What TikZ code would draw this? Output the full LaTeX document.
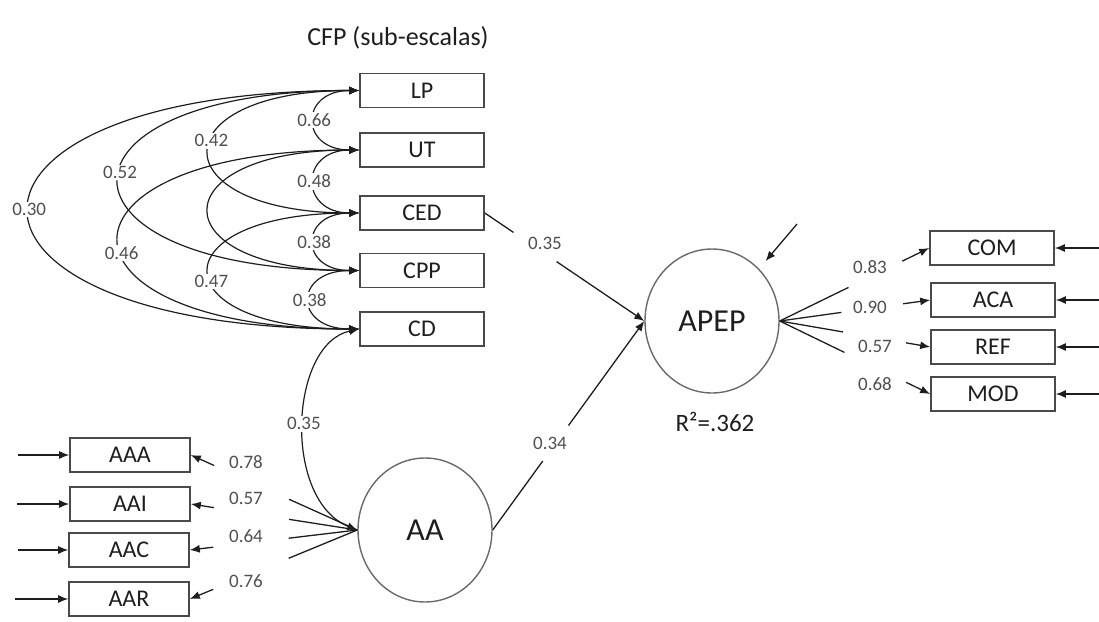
\documentclass[tikz,border=0pt]{standalone}
\usepackage{fontspec}
\setmainfont{Carlito}
\usetikzlibrary{arrows.meta,calc,shapes.geometric}

\definecolor{ink}{HTML}{1E1E1E}
\definecolor{frame}{HTML}{4A4A4A}
\definecolor{ring}{HTML}{6A6A6A}
\definecolor{numc}{HTML}{505050}

\tikzset{
  obs/.style={draw=frame, line width=1.6pt, minimum width=124pt, minimum height=34pt,
    inner sep=0pt, font=\fontsize{24}{26}\selectfont, text=ink},
  lat/.style={ellipse, draw=ring, line width=1.4pt, minimum width=134pt, minimum height=144pt,
    inner sep=0pt, font=\fontsize{32}{34}\selectfont, text=ink},
  lbl/.style={font=\fontsize{19}{20}\selectfont, text=numc, fill=white, inner sep=1.5pt},
  tip/.tip={Latex[length=10pt,width=8pt]},
  arr/.style={draw=ink, line width=1.3pt, -tip},
  cov/.style={draw=ink, line width=1.2pt, tip-tip},
  % straight connector with a break in the middle (for its coefficient)
  gap/.style 2 args={to path={-- ($(\tikztostart)!#1!(\tikztotarget)$)
      ($(\tikztostart)!#2!(\tikztotarget)$) -- (\tikztotarget)}},
}

\begin{document}
\begin{tikzpicture}[x=1pt,y=-1pt]
\useasboundingbox (0,0) rectangle (1099,621);

% title
\node[font=\fontsize{26}{28}\selectfont, text=ink] (title) at (398,38) {CFP (sub-escalas)};

% CFP sub-scales
\node[obs] (LP)  at (422,90.5)  {LP};
\node[obs] (UT)  at (422,150)   {UT};
\node[obs] (CED) at (422,213)   {CED};
\node[obs] (CPP) at (422,270.5) {CPP};
\node[obs] (CD)  at (422,329)   {CD};

% outcome factor
\node[lat] (APEP) at (712,321) {APEP};
\node[font=\fontsize{25}{27}\selectfont, text=ink] (r2) at (715,422) {R²=.362};

\node[obs] (COM) at (992,248) {COM};
\node[obs] (ACA) at (993,300) {ACA};
\node[obs] (REF) at (993,347) {REF};
\node[obs] (MOD) at (993,394) {MOD};

% AA factor
\node[lat] (AA) at (425,530) {AA};
\node[obs, minimum width=120pt] (AAA) at (130,455) {AAA};
\node[obs, minimum width=120pt] (AAI) at (130,504) {AAI};
\node[obs, minimum width=120pt] (AAC) at (129,550) {AAC};
\node[obs, minimum width=120pt] (AAR) at (129,599) {AAR};

% correlations among the sub-scales
\draw[cov] (LP.west)  .. controls +(-440,0) and +(-440,0) .. node[lbl,pos=.5]{0.30} (CD.west);
\draw[cov] (LP.west)  .. controls +(-320,0) and +(-320,0) .. node[lbl,pos=.47]{0.52} (CPP.west);
\draw[cov] (UT.west)  .. controls +(-320,0) and +(-320,0) .. node[lbl,pos=.55]{0.46} (CD.west);
\draw[cov] (LP.west)  .. controls +(-200,0) and +(-200,0) .. node[lbl,pos=.44]{0.42} (CED.west);
\draw[cov] (UT.west)  .. controls +(-200,0) and +(-200,0) .. (CPP.west);
\draw[cov] (CED.west) .. controls +(-200,0) and +(-200,0) .. node[lbl,pos=.56]{0.47} (CD.west);
\draw[cov] (LP.west)  .. controls +(-60,0) and +(-60,0) .. node[lbl]{0.66} (UT.west);
\draw[cov] (UT.west)  .. controls +(-60,0) and +(-60,0) .. node[lbl]{0.48} (CED.west);
\draw[cov] (CED.west) .. controls +(-60,0) and +(-60,0) .. node[lbl]{0.38} (CPP.west);
\draw[cov] (CPP.west) .. controls +(-66,0) and +(-66,0) .. node[lbl]{0.38} (CD.west);

% CD with AA
\draw[cov] (CD.west) .. controls +(-70,15) and +(-75,-30) .. node[lbl,pos=.5]{0.35} (AA.west);

% structural paths
\draw[arr, gap={0.18}{0.45}] (CED.east) to (APEP.west);
\node[lbl] (bCED) at (545,243) {0.35};
\draw[arr, gap={0.33}{0.50}] (AA.east) to (APEP.west);
\node[lbl] (bAA) at (550,443) {0.34};

% APEP loadings
\draw[arr, gap={0.46}{0.82}] (APEP.east) to (COM.west);
\draw[arr, gap={0.41}{0.82}] (APEP.east) to (ACA.west);
\draw[arr, gap={0.42}{0.84}] (APEP.east) to (REF.west);
\draw[arr, gap={0.43}{0.84}] (APEP.east) to (MOD.west);
\node[lbl] (lCOM) at (870,267) {0.83};
\node[lbl] (lACA) at (870,307) {0.90};
\node[lbl] (lREF) at (875,346) {0.57};
\node[lbl] (lMOD) at (875,384) {0.68};

% AA loadings
\draw[arr, gap={0.41}{0.86}] (AA.west) to (AAA.east);
\draw[arr, gap={0.41}{0.86}] (AA.west) to (AAI.east);
\draw[arr, gap={0.41}{0.86}] (AA.west) to (AAC.east);
\draw[arr, gap={0.41}{0.86}] (AA.west) to (AAR.east);
\node[lbl] (lAAA) at (246,462) {0.78};
\node[lbl] (lAAI) at (246,498) {0.57};
\node[lbl] (lAAC) at (246,536) {0.64};
\node[lbl] (lAAR) at (246,581) {0.76};

% error terms
\coordinate (eAPEP) at (797,224);
\draw[arr, shorten >=10pt] (eAPEP) -- (APEP.48);

\coordinate (eCOM) at (1099,248);
\coordinate (eACA) at (1099,300);
\coordinate (eREF) at (1099,347);
\coordinate (eMOD) at (1099,394);
\draw[arr] (eCOM) -- (COM.east);
\draw[arr] (eACA) -- (ACA.east);
\draw[arr] (eREF) -- (REF.east);
\draw[arr] (eMOD) -- (MOD.east);

\coordinate (eAAA) at (18,455);
\coordinate (eAAI) at (17,504);
\coordinate (eAAC) at (18,550);
\coordinate (eAAR) at (15,599);
\draw[arr] (eAAA) -- (AAA.west);
\draw[arr] (eAAI) -- (AAI.west);
\draw[arr] (eAAC) -- (AAC.west);
\draw[arr] (eAAR) -- (AAR.west);
\end{tikzpicture}
\end{document}
